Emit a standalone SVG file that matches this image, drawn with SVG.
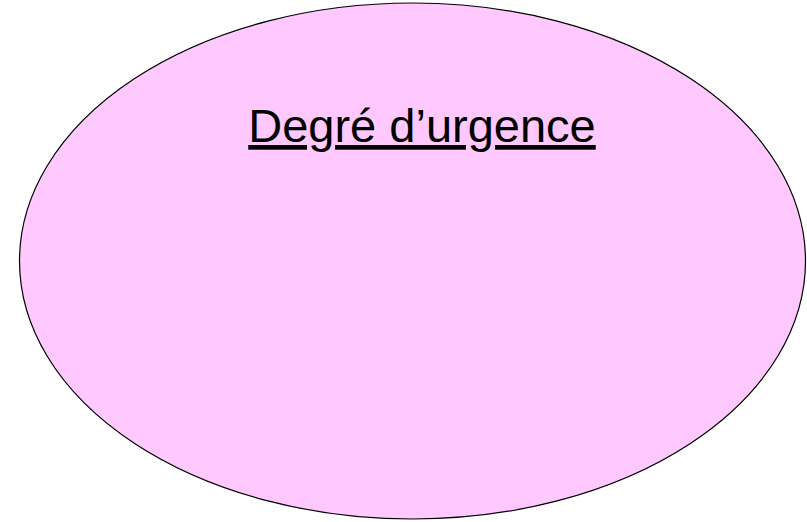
<svg xmlns="http://www.w3.org/2000/svg" width="807" height="522" viewBox="0 0 807 522">
<style>
.node{fill:#FFC8FF;stroke:#000;stroke-width:1.2}
.lbl{font-family:"Liberation Sans",Arial,sans-serif;font-size:47px;fill:#000;text-decoration:underline}
</style>
<rect width="807" height="522" fill="#fff"/>
<g id="connectors"></g>
<g id="node-urgence">
<ellipse class="node" cx="412.5" cy="261" rx="393" ry="258"/>
<text class="lbl" x="422" y="142" text-anchor="middle">Degré d’urgence</text>
</g>
</svg>
